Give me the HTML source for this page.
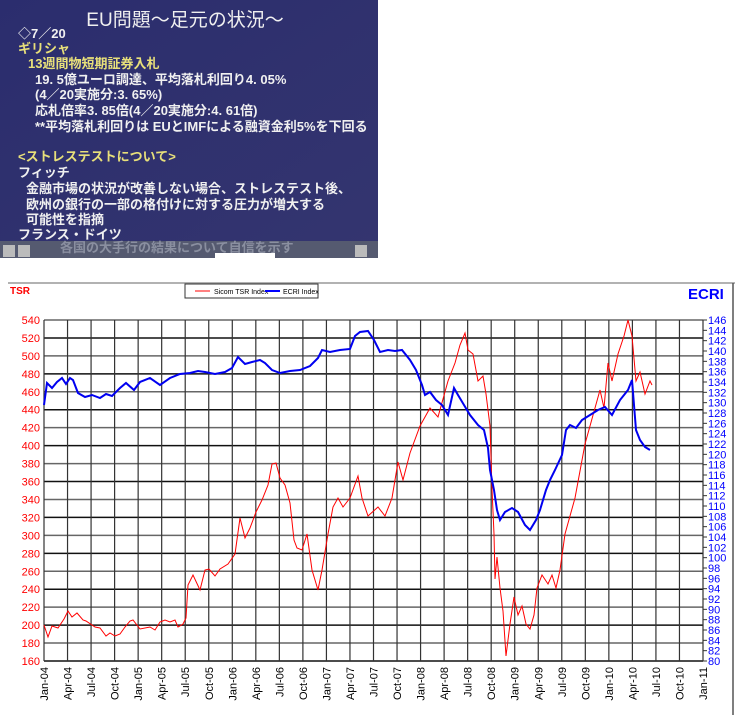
<!DOCTYPE html>
<html><head><meta charset="utf-8"><style>
html,body{margin:0;padding:0;background:#fff;width:742px;height:715px;overflow:hidden}
svg{display:block}
.sl{font-family:"Liberation Sans","Noto Sans CJK JP",sans-serif;font-size:13px;fill:#f0f0f0;font-weight:bold}
.y{fill:#e8e07a}
.ax{font-family:"Liberation Sans",sans-serif;font-size:11px}
</style></head><body>
<svg width="742" height="715" viewBox="0 0 742 715" xmlns="http://www.w3.org/2000/svg">
<defs><linearGradient id="bg" x1="0" y1="0" x2="1" y2="1"><stop offset="0" stop-color="#2b2d6e"/><stop offset="1" stop-color="#34356f"/></linearGradient></defs>
<rect x="0" y="0" width="378" height="258" fill="url(#bg)"/>
<text x="185" y="26" text-anchor="middle" class="sl" style="font-size:19px;font-weight:normal">EU問題～足元の状況～</text>
<text x="18" y="38" class="sl">◇7／20</text>
<text x="18" y="53" class="sl y">ギリシャ</text>
<text x="28" y="68" class="sl y">13週間物短期証券入札</text>
<text x="35" y="84" class="sl">19. 5億ユーロ調達、平均落札利回り4. 05%</text>
<text x="35" y="99" class="sl">(4／20実施分:3. 65%)</text>
<text x="35" y="115" class="sl">応札倍率3. 85倍(4／20実施分:4. 61倍)</text>
<text x="35" y="131" class="sl">**平均落札利回りは  EUとIMFによる融資金利5%を下回る</text>
<text x="18" y="161" class="sl y">&lt;ストレステストについて&gt;</text>
<text x="18" y="177" class="sl">フィッチ</text>
<text x="26" y="193" class="sl">金融市場の状況が改善しない場合、ストレステスト後、</text>
<text x="26" y="209" class="sl">欧州の銀行の一部の格付けに対する圧力が増大する</text>
<text x="26" y="224" class="sl">可能性を指摘</text>
<text x="18" y="239" class="sl">フランス・ドイツ</text>
<rect x="0" y="241" width="378" height="17" fill="#555a70"/>
<text x="60" y="252" class="sl" style="fill:#8a8fa0">各国の大手行の結果について自信を示す</text>
<rect x="3" y="245" width="12" height="12" fill="#bbb"/><rect x="18" y="245" width="12" height="12" fill="#bbb"/>
<rect x="355" y="245" width="12" height="12" fill="#bbb"/>
<rect x="215" y="253" width="60" height="5" fill="#fff"/>

<line x1="8" y1="283" x2="735" y2="283" stroke="#999" stroke-width="1.5"/>
<line x1="733" y1="283" x2="733" y2="715" stroke="#555" stroke-width="1.5"/>
<rect x="185" y="284" width="133" height="14" fill="#fff" stroke="#333" stroke-width="1"/>
<line x1="195" y1="291" x2="210" y2="291" stroke="red"/>
<text x="214" y="294" class="ax" style="font-size:7px">Sicom TSR Index</text>
<line x1="265" y1="291" x2="280" y2="291" stroke="blue" stroke-width="2"/>
<text x="283" y="294" class="ax" style="font-size:7px">ECRI Index</text>
<text x="10" y="294" class="ax" style="font-size:10px;font-weight:bold;fill:red">TSR</text>
<text x="688" y="299" class="ax" style="font-size:15px;font-weight:bold;fill:blue">ECRI</text>
<g id="grid" stroke="#222" stroke-width="1"></g>
<g id="lab"></g>
<polyline fill="none" stroke="#f00" stroke-width="1" points="44,625 48,637 52,626 58,628 64,619 68,611 72,617 77,613 83,620 86,621 95,627 100,628 106,636 110,633 115,636 120,634 125,627 130,621 133,620 140,629 150,627 155,630 160,622 165,620 170,622 175,620 178,627 183,624 186,618 188,585 193,575 200,590 205,570 209,569 215,576 220,569 228,564 235,554 240,518 245,538 250,528 256,512 262,500 268,485 272,464 276,463 280,478 285,485 290,503 294,540 297,548 302,550 307,534 312,570 318,590 322,570 328,534 333,507 338,498 343,507 350,498 358,476 362,498 368,516 378,507 385,516 392,498 398,462 403,480 410,453 420,426 430,408 438,417 448,381 455,363 460,345 465,333 468,350 473,354 478,381 483,376 486,394 490,426 492,489 494,534 495,579 497,557 500,588 503,611 506,656 510,624 514,597 518,615 522,606 526,624 530,629 534,615 537,588 542,575 548,584 552,575 556,588 560,570 565,534 570,516 575,498 580,471 585,444 590,426 600,390 604,408 608,363 612,381 618,354 624,336 628,320 632,336 636,381 640,372 645,394 650,381 652,385"/>
<polyline fill="none" stroke="#0000f0" stroke-width="2" points="44,405 47,383 52,388 57,382 62,378 66,384 70,378 73,380 78,393 85,397 92,395 100,398 106,394 112,396 120,388 126,383 134,390 140,382 150,378 160,385 170,378 180,374 190,373 198,371 205,372 215,374 225,372 232,368 238,357 245,364 252,362 260,360 265,363 272,370 280,373 290,371 300,370 310,366 318,358 322,350 330,352 340,350 350,349 355,336 360,332 368,331 374,340 380,352 388,350 395,351 402,350 410,360 416,370 422,385 425,395 430,392 436,400 442,405 448,415 454,388 458,395 464,405 470,415 478,425 484,430 488,448 490,470 494,490 497,510 500,520 505,512 512,508 518,512 525,525 530,530 536,520 540,510 546,490 550,480 555,470 562,455 566,430 570,425 576,428 582,420 590,415 598,410 605,407 612,415 620,400 628,390 632,380 636,430 640,440 645,447 650,450"/>
</svg>
<script>
var ns="http://www.w3.org/2000/svg",g=document.getElementById("grid"),L=document.getElementById("lab");
function el(t,a,p,txt){var e=document.createElementNS(ns,t);for(var k in a)e.setAttribute(k,a[k]);if(txt)e.textContent=txt;p.appendChild(e);return e;}
var x0=44,x1=703,yt=320,yb=661;
for(var i=0;i<=19;i++){var y=yt+(yb-yt)*i/19;el("line",{x1:x0,y1:y,x2:x1,y2:y,stroke:i%2?"#111":"#666","stroke-width":1.5},g);
el("text",{x:40,y:y+4,"text-anchor":"end","class":"ax",fill:"red"},L,String(540-20*i));}
for(var i=0;i<=33;i++){var y=yt+(yb-yt)*i/33;el("line",{x1:x1,y1:y,x2:x1+4,y2:y,stroke:"#333"},g);
el("text",{x:708,y:y+4,"class":"ax",fill:"blue"},L,String(146-2*i));}
var m=["Jan","Apr","Jul","Oct"];
for(var i=0;i<=28;i++){var x=x0+(x1-x0)*i/28;el("line",{x1:x,y1:yt,x2:x,y2:yb,stroke:"#333","stroke-width":1.2},g);
var yr=String(4+Math.floor(i/4));if(yr.length<2)yr="0"+yr;
el("text",{x:0,y:0,"text-anchor":"end","class":"ax",fill:"#000",transform:"translate("+(x+4)+",667) rotate(-90)"},L,m[i%4]+"-"+yr);}
</script>
</body></html>
